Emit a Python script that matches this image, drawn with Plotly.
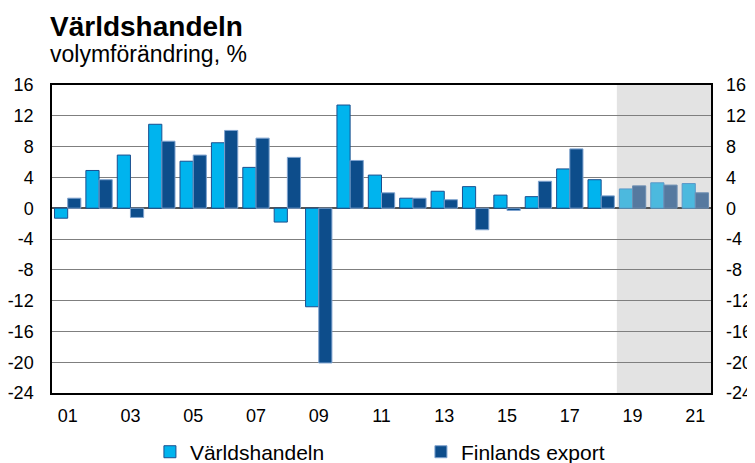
import plotly.graph_objects as go

years = list(range(2001, 2022))
world = [-1.3, 4.9, 6.9, 10.9, 6.1, 8.5, 5.3, -1.8, -12.8, 13.4, 4.3, 1.3, 2.2, 2.8, 1.7, 1.5, 5.1, 3.7, 2.5, 3.3, 3.2]
finland = [1.3, 3.7, -1.2, 8.7, 6.9, 10.1, 9.1, 6.6, -20.1, 6.2, 2.0, 1.3, 1.1, -2.8, -0.3, 3.5, 7.7, 1.6, 2.9, 3.0, 2.0]
forecast_start = 2019
tick_years = list(range(2001, 2022, 2))
tick_text = ["%02d" % (y % 100) for y in tick_years]
y_ticks = list(range(-24, 17, 4))
y_tick_text = [str(v) for v in y_ticks]

W_COL, W_FC = "#00b4ee", "#4cb9de"
F_COL, F_FC = "#0d4d8b", "#56799f"

w_colors = [W_FC if y >= forecast_start else W_COL for y in years]
f_colors = [F_FC if y >= forecast_start else F_COL for y in years]
w_lines = ["#5b98c9" if y >= forecast_start else "#1b4f8f" for y in years]
f_lines = ["#6e8fb3" if y >= forecast_start else "#7fa3cf" for y in years]

font = "Liberation Sans, Arial, sans-serif"

fig = go.Figure()
fig.add_trace(go.Bar(x=years, y=world, name="Världshandeln",
                     marker=dict(color=w_colors, line=dict(color=w_lines, width=1))))
fig.add_trace(go.Bar(x=years, y=finland, name="Finlands export",
                     marker=dict(color=f_colors, line=dict(color=f_lines, width=1))))
# invisible trace for right axis
fig.add_trace(go.Scatter(x=[years[0]], y=[0], yaxis="y2", showlegend=False,
                         mode="markers", marker=dict(opacity=0), hoverinfo="skip"))

fig.add_shape(type="rect", xref="x", yref="paper", x0=forecast_start - 0.5, x1=years[-1] + 0.5,
              y0=0, y1=1, fillcolor="#e3e3e3", line=dict(width=0), layer="below")

axis_font = dict(family=font, size=18, color="black")
fig.update_layout(
    width=747, height=455,
    margin=dict(l=44, r=44, t=77, b=70, autoexpand=False),
    paper_bgcolor="white", plot_bgcolor="white",
    barmode="group", bargap=0.16, bargroupgap=0.0,
    showlegend=True,
    legend=dict(orientation="h", xref="container", yref="container", x=0.190, y=0.024,
                xanchor="left", yanchor="middle", entrywidth=226, entrywidthmode="pixels",
                font=dict(family=font, size=21, color="black"), itemwidth=30,
                traceorder="normal"),
    xaxis=dict(range=[years[0] - 0.5, years[-1] + 0.5], tickmode="array",
               tickvals=tick_years, ticktext=tick_text, tickfont=axis_font,
               showgrid=False, showline=True, linecolor="black", linewidth=1.5,
               mirror=True, ticks="", automargin=False, ticklabelstandoff=6),
    yaxis=dict(range=[-24, 16], tickmode="array", tickvals=y_ticks, ticktext=y_tick_text,
               tickfont=axis_font,
               showgrid=True, gridcolor="#7f7f7f", gridwidth=1.3,
               zeroline=True, zerolinecolor="#555555", zerolinewidth=1.5,
               showline=True, linecolor="black", linewidth=1.5, ticks="", mirror=True,
               automargin=False, ticklabelstandoff=13),
    yaxis2=dict(range=[-24, 16], overlaying="y", side="right", tickmode="array",
                tickvals=y_ticks, ticktext=y_tick_text, tickfont=axis_font,
                showgrid=False, zeroline=False,
                showline=False, ticks="", automargin=False, ticklabelstandoff=14),
    annotations=[
        dict(text="<b>Världshandeln</b>", xref="paper", yref="paper", x=0.0, y=1.19,
             xanchor="left", yanchor="middle", showarrow=False, xshift=-4,
             font=dict(family=font, size=28, color="black")),
        dict(text="volymförändring, %", xref="paper", yref="paper", x=0.0, y=1.10,
             xanchor="left", yanchor="middle", showarrow=False, xshift=-4,
             font=dict(family=font, size=23, color="black")),
    ],
)

fig.write_html("out.html")
